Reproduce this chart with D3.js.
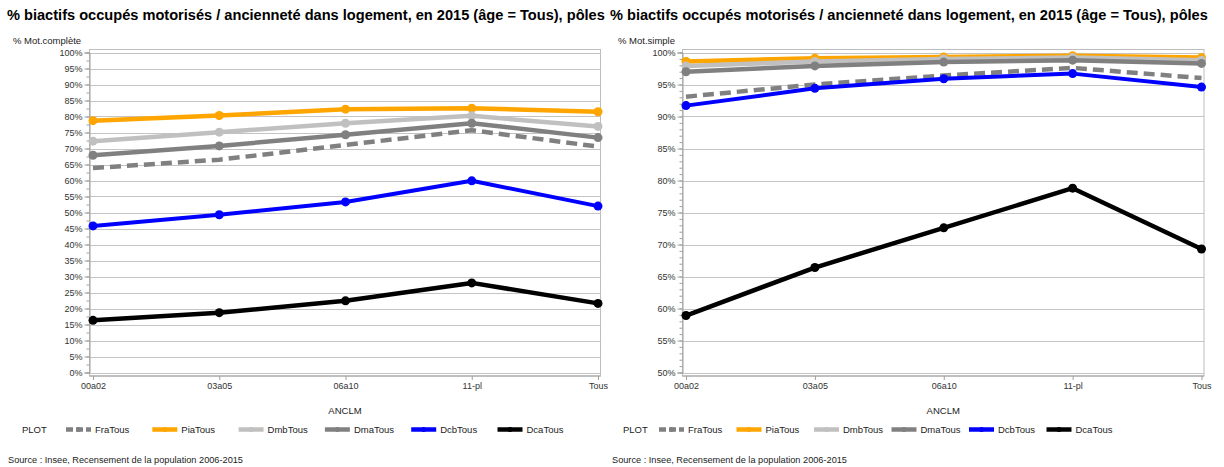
<!DOCTYPE html>
<html>
<head>
<meta charset="utf-8">
<script src="https://cdn.jsdelivr.net/npm/d3@7"></script>
<style>
  html, body { margin: 0; padding: 0; background: #fff; }
  svg { display: block; font-family: "Liberation Sans", Arial, sans-serif; }
</style>
</head>
<body>
<svg id="chart" width="1224" height="467"></svg>
<script>
// Seniority-in-dwelling classes (x axis)
const categories = ["00a02", "03a05", "06a10", "11-pl", "Tous"];

// Series names, in legend / drawing order
const seriesNames = ["FraTous", "PiaTous", "DmbTous", "DmaTous", "DcbTous", "DcaTous"];

// Left panel: % fully motorised dual-earner households
const completeFraTous = [63.9, 66.5, 71.1, 75.7, 70.6];
const completePiaTous = [78.7, 80.3, 82.3, 82.6, 81.5];
const completeDmbTous = [72.3, 75.1, 77.9, 80.2, 76.9];
const completeDmaTous = [67.9, 70.8, 74.3, 77.9, 73.4];
const completeDcbTous = [45.8, 49.3, 53.3, 59.9, 52.0];
const completeDcaTous = [16.3, 18.7, 22.4, 28.0, 21.6];

// Right panel: % at least partly motorised dual-earner households
const simpleFraTous = [93.1, 95.0, 96.4, 97.6, 96.0];
const simplePiaTous = [98.6, 99.1, 99.3, 99.5, 99.2];
const simpleDmbTous = [97.9, 98.6, 99.0, 99.2, 98.8];
const simpleDmaTous = [97.0, 97.9, 98.5, 98.8, 98.3];
const simpleDcbTous = [91.7, 94.4, 95.9, 96.7, 94.6];
const simpleDcaTous = [58.9, 66.4, 72.6, 78.8, 69.3];

// Y tick labels
const completeTicks = d3.range(0, 101, 5);
const simpleTicks = d3.range(50, 101, 5);

const titleText = "% biactifs occupés motorisés / ancienneté dans logement, en 2015 (âge = Tous), pôles";
const sourceText = "Source : Insee, Recensement de la population 2006-2015";

const styles = {
  FraTous: { color: "#808080", width: 4.5, dash: "11,6", marker: false },
  PiaTous: { color: "#FFA500", width: 4.5, dash: null, marker: true },
  DmbTous: { color: "#C0C0C0", width: 4.5, dash: null, marker: true },
  DmaTous: { color: "#808080", width: 4.5, dash: null, marker: true },
  DcbTous: { color: "#0000FF", width: 4, dash: null, marker: true },
  DcaTous: { color: "#000000", width: 4.5, dash: null, marker: true }
};

const svg = d3.select("#chart");

function panel(opt) {
  const g = svg.append("g");
  const x = d3.scalePoint().domain(categories).range([opt.x0, opt.x1]);
  const y = d3.scaleLinear().domain(opt.yDomain).range([opt.yBottom, opt.yTop]);

  // Title
  g.append("text").attr("x", opt.titleX).attr("y", 20)
    .attr("font-size", 14.6).attr("font-weight", "bold").attr("fill", "#000")
    .text(titleText);

  // Frame
  g.append("rect")
    .attr("x", opt.frameL).attr("y", opt.frameT)
    .attr("width", opt.frameR - opt.frameL).attr("height", opt.frameB - opt.frameT)
    .attr("fill", "none").attr("stroke", "#bdbdbd").attr("stroke-width", 1);

  // Gridlines
  g.append("g").selectAll("line").data(opt.ticks).join("line")
    .attr("x1", opt.frameL).attr("x2", opt.frameR)
    .attr("y1", d => Math.round(y(d)) + 0.5).attr("y2", d => Math.round(y(d)) + 0.5)
    .attr("stroke", "#c4c4c4").attr("stroke-width", 1);

  // Y axis with minor ticks
  const yAxisMinor = d3.axisLeft(y).tickValues(d3.range(opt.yDomain[0], opt.yDomain[1] + 0.001, opt.minorStep))
    .tickSize(3).tickFormat("");
  g.append("g").attr("transform", `translate(${opt.frameL},0)`).call(yAxisMinor)
    .call(s => s.select(".domain").remove())
    .selectAll("line").attr("stroke", "#a0a0a0");
  const yAxis = d3.axisLeft(y).tickValues(opt.ticks).tickSize(5).tickPadding(2)
    .tickFormat(d => d + "%");
  const ya = g.append("g").attr("transform", `translate(${opt.frameL},0)`).call(yAxis);
  ya.select(".domain").attr("stroke", "#a0a0a0");
  ya.selectAll("line").attr("stroke", "#a0a0a0");
  ya.selectAll("text").attr("font-size", 9).attr("fill", "#333").attr("font-family", null);

  // X axis
  const xAxis = d3.axisBottom(x).tickSize(4).tickPadding(3);
  const xa = g.append("g").attr("transform", `translate(0,${opt.frameB})`).call(xAxis);
  xa.select(".domain").attr("stroke", "#a0a0a0").attr("d", `M${opt.frameL},0H${opt.frameR}`);
  xa.selectAll("line").attr("stroke", "#a0a0a0");
  xa.selectAll("text").attr("font-size", 9).attr("fill", "#333").attr("font-family", null);

  // Axis titles
  g.append("text").attr("x", opt.yLabelX).attr("y", 44).attr("font-size", 9.5).attr("fill", "#222")
    .text(opt.yLabel);
  g.append("text").attr("x", (opt.frameL + opt.frameR) / 2).attr("y", 414)
    .attr("text-anchor", "middle").attr("font-size", 9.5).attr("fill", "#222").text("ANCLM");

  // Series
  const line = d3.line().x((d, i) => x(categories[i])).y(d => y(d));
  opt.series.forEach((vals, k) => {
    const st = styles[seriesNames[k]];
    g.append("path").datum(vals).attr("d", line)
      .attr("fill", "none").attr("stroke", st.color).attr("stroke-width", st.width)
      .attr("stroke-dasharray", st.dash).attr("stroke-linejoin", "round");
    if (st.marker) {
      g.append("g").selectAll("circle").data(vals).join("circle")
        .attr("cx", (d, i) => x(categories[i])).attr("cy", d => y(d))
        .attr("r", 4.5).attr("fill", st.color);
    }
  });

  // Legend
  g.append("text").attr("x", opt.plotX).attr("y", 433).attr("font-size", 9.5).attr("fill", "#222").text("PLOT");
  seriesNames.forEach((name, k) => {
    const st = styles[name];
    const lx = opt.legendX + k * opt.legendStep;
    g.append("line").attr("x1", lx).attr("x2", lx + 25).attr("y1", 429.5).attr("y2", 429.5)
      .attr("stroke", st.color).attr("stroke-width", 4.5)
      .attr("stroke-dasharray", st.dash ? "7,3" : null);
    g.append("circle").attr("cx", lx + 12.5).attr("cy", 429.5).attr("r", 2.5).attr("fill", st.color);
    g.append("text").attr("x", lx + 29).attr("y", 433).attr("font-size", 9.5).attr("fill", "#222").text(name);
  });

  // Source
  g.append("text").attr("x", opt.sourceX).attr("y", 463).attr("font-size", 9.2).attr("fill", "#222").text(sourceText);
}

panel({
  titleX: 7,
  x0: 93, x1: 598,
  frameL: 89.5, frameR: 600.5, frameT: 49.5, frameB: 376,
  yDomain: [0, 100], yTop: 52.5, yBottom: 372.5,
  ticks: completeTicks, minorStep: 2.5,
  yLabel: "% Mot.complète", yLabelX: 13,
  plotX: 22, legendX: 66, legendStep: 86.3,
  sourceX: 8,
  series: [completeFraTous, completePiaTous, completeDmbTous, completeDmaTous, completeDcbTous, completeDcaTous]
});

panel({
  titleX: 610,
  x0: 686, x1: 1201.5,
  frameL: 682.5, frameR: 1204, frameT: 49.5, frameB: 376,
  yDomain: [50, 100], yTop: 52.5, yBottom: 372.5,
  ticks: simpleTicks, minorStep: 1,
  yLabel: "% Mot.simple", yLabelX: 618,
  plotX: 623, legendX: 659, legendStep: 77.5,
  sourceX: 612,
  series: [simpleFraTous, simplePiaTous, simpleDmbTous, simpleDmaTous, simpleDcbTous, simpleDcaTous]
});
</script>
</body>
</html>
